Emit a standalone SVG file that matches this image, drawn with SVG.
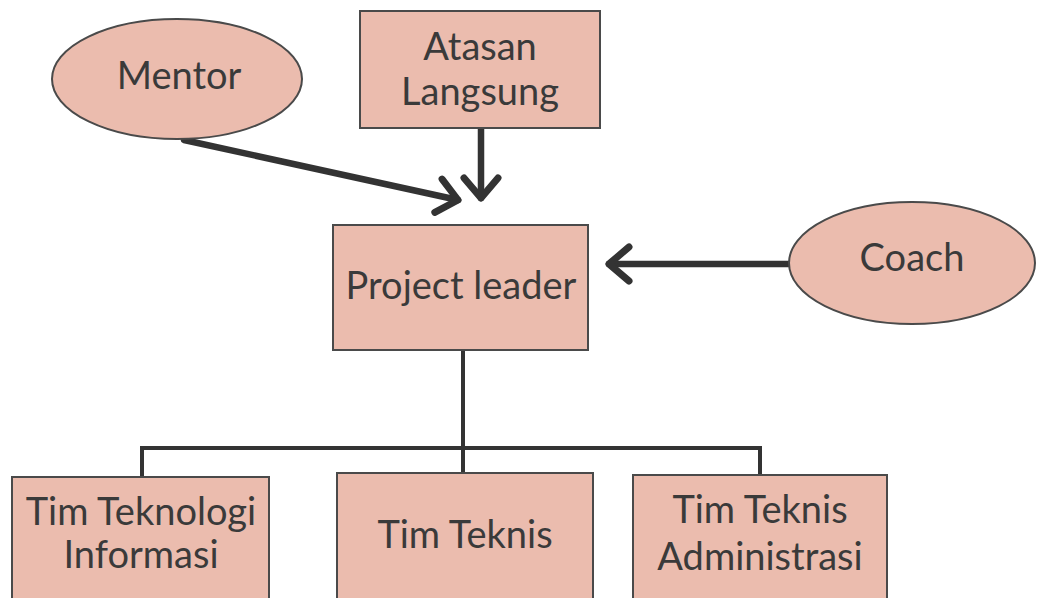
<svg xmlns="http://www.w3.org/2000/svg" width="1043" height="598" viewBox="0 0 1043 598">
  <style>
    .node { fill: #EBBCAE; stroke: #4a4a4a; stroke-width: 2; }
    .label { font-family: Lato, "Open Sans", sans-serif; font-size: 38px; fill: #3a3a3a; text-anchor: middle; }
    .arrow { fill: none; stroke: #333; stroke-width: 6.5; stroke-linecap: round; marker-end: url(#chevron); }
    .tree { fill: none; stroke: #333; stroke-width: 4; }
  </style>
  <defs>
    <marker id="chevron" markerUnits="userSpaceOnUse" markerWidth="50" markerHeight="50" refX="40" refY="25" orient="auto">
      <path d="M20,8 L40,25 L20,42" fill="none" stroke="#333" stroke-width="7" stroke-linecap="round" stroke-linejoin="round"/>
    </marker>
  </defs>
  <rect width="1043" height="598" fill="#fff"/>

  <g id="connectors">
    <line class="arrow" x1="184" y1="140" x2="458" y2="200"/>
    <line class="arrow" x1="481" y1="129" x2="481" y2="198"/>
    <line class="arrow" x1="789" y1="264" x2="609" y2="264"/>
    <line class="tree" x1="463" y1="350" x2="463" y2="474"/>
    <polyline class="tree" points="142,478 142,448 760,448 760,476"/>
  </g>

  <g id="mentor">
    <ellipse class="node" cx="177" cy="79" rx="125" ry="60"/>
    <text class="label" x="179" y="89">Mentor</text>
  </g>
  <g id="atasan-langsung">
    <rect class="node" x="360" y="11" width="240" height="117"/>
    <text class="label" x="480" y="60">Atasan</text>
    <text class="label" x="480" y="105">Langsung</text>
  </g>
  <g id="coach">
    <ellipse class="node" cx="912" cy="263" rx="123" ry="61"/>
    <text class="label" x="912" y="271">Coach</text>
  </g>
  <g id="project-leader">
    <rect class="node" x="333" y="225" width="255" height="125"/>
    <text class="label" x="461" y="299">Project leader</text>
  </g>
  <g id="tim-teknologi-informasi">
    <rect class="node" x="12" y="477" width="257" height="130"/>
    <text class="label" x="141" y="525">Tim Teknologi</text>
    <text class="label" x="141" y="568">Informasi</text>
  </g>
  <g id="tim-teknis">
    <rect class="node" x="337" y="473" width="256" height="134"/>
    <text class="label" x="465" y="548">Tim Teknis</text>
  </g>
  <g id="tim-teknis-administrasi">
    <rect class="node" x="633" y="475" width="254" height="132"/>
    <text class="label" x="760" y="523">Tim Teknis</text>
    <text class="label" x="760" y="570">Administrasi</text>
  </g>
</svg>
